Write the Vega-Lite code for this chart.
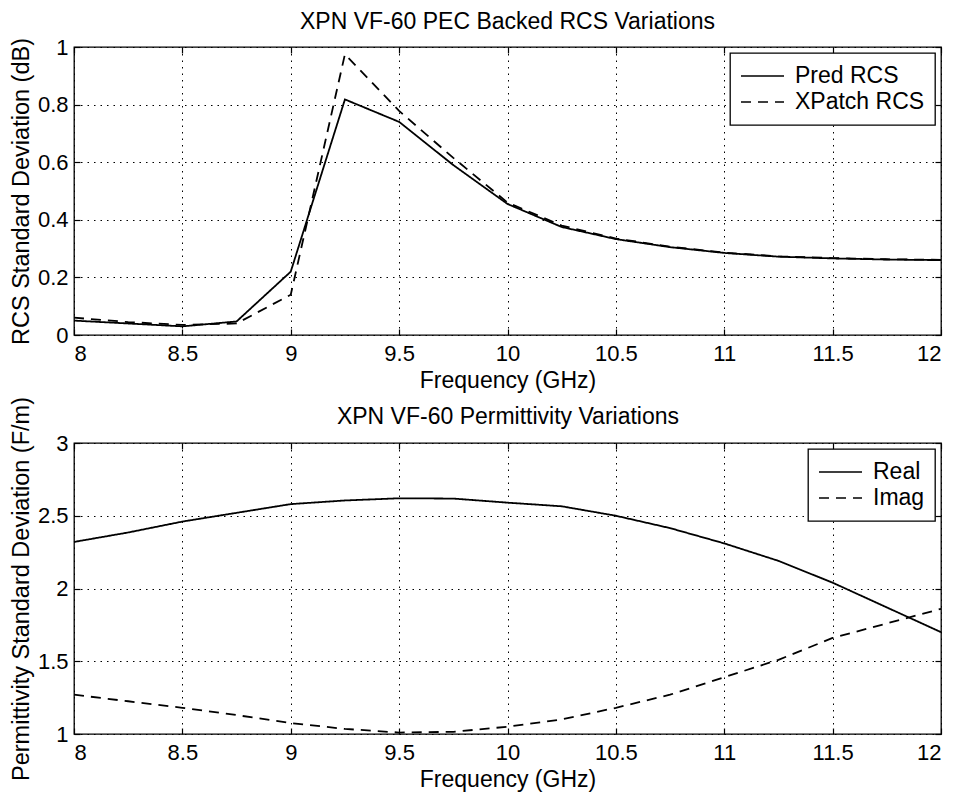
{
  "$schema": "https://vega.github.io/schema/vega-lite/v6.json",
  "background": "white",
  "padding": {"left": 8, "top": 10, "right": 5, "bottom": 3},
  "bounds": "flush",
  "datasets": {
    "rcs": [
      {"freq": 8, "value": 0.05, "series": "Pred RCS"},
      {"freq": 8.25, "value": 0.04, "series": "Pred RCS"},
      {"freq": 8.5, "value": 0.03, "series": "Pred RCS"},
      {"freq": 8.75, "value": 0.047, "series": "Pred RCS"},
      {"freq": 9, "value": 0.22, "series": "Pred RCS"},
      {"freq": 9.25, "value": 0.818, "series": "Pred RCS"},
      {"freq": 9.5, "value": 0.74, "series": "Pred RCS"},
      {"freq": 9.75, "value": 0.59, "series": "Pred RCS"},
      {"freq": 10, "value": 0.455, "series": "Pred RCS"},
      {"freq": 10.25, "value": 0.375, "series": "Pred RCS"},
      {"freq": 10.5, "value": 0.333, "series": "Pred RCS"},
      {"freq": 10.75, "value": 0.305, "series": "Pred RCS"},
      {"freq": 11, "value": 0.285, "series": "Pred RCS"},
      {"freq": 11.25, "value": 0.272, "series": "Pred RCS"},
      {"freq": 11.5, "value": 0.266, "series": "Pred RCS"},
      {"freq": 11.75, "value": 0.262, "series": "Pred RCS"},
      {"freq": 12, "value": 0.26, "series": "Pred RCS"},
      {"freq": 8, "value": 0.06, "series": "XPatch RCS"},
      {"freq": 8.25, "value": 0.045, "series": "XPatch RCS"},
      {"freq": 8.5, "value": 0.035, "series": "XPatch RCS"},
      {"freq": 8.75, "value": 0.04, "series": "XPatch RCS"},
      {"freq": 9, "value": 0.14, "series": "XPatch RCS"},
      {"freq": 9.25, "value": 0.975, "series": "XPatch RCS"},
      {"freq": 9.5, "value": 0.778, "series": "XPatch RCS"},
      {"freq": 9.75, "value": 0.615, "series": "XPatch RCS"},
      {"freq": 10, "value": 0.46, "series": "XPatch RCS"},
      {"freq": 10.25, "value": 0.38, "series": "XPatch RCS"},
      {"freq": 10.5, "value": 0.335, "series": "XPatch RCS"},
      {"freq": 10.75, "value": 0.307, "series": "XPatch RCS"},
      {"freq": 11, "value": 0.286, "series": "XPatch RCS"},
      {"freq": 11.25, "value": 0.273, "series": "XPatch RCS"},
      {"freq": 11.5, "value": 0.267, "series": "XPatch RCS"},
      {"freq": 11.75, "value": 0.263, "series": "XPatch RCS"},
      {"freq": 12, "value": 0.261, "series": "XPatch RCS"}
    ],
    "perm": [
      {"freq": 8, "value": 2.32, "series": "Real"},
      {"freq": 8.25, "value": 2.385, "series": "Real"},
      {"freq": 8.5, "value": 2.46, "series": "Real"},
      {"freq": 8.75, "value": 2.52, "series": "Real"},
      {"freq": 9, "value": 2.58, "series": "Real"},
      {"freq": 9.25, "value": 2.605, "series": "Real"},
      {"freq": 9.5, "value": 2.62, "series": "Real"},
      {"freq": 9.75, "value": 2.618, "series": "Real"},
      {"freq": 10, "value": 2.59, "series": "Real"},
      {"freq": 10.25, "value": 2.565, "series": "Real"},
      {"freq": 10.5, "value": 2.5, "series": "Real"},
      {"freq": 10.75, "value": 2.415, "series": "Real"},
      {"freq": 11, "value": 2.31, "series": "Real"},
      {"freq": 11.25, "value": 2.19, "series": "Real"},
      {"freq": 11.5, "value": 2.04, "series": "Real"},
      {"freq": 11.75, "value": 1.87, "series": "Real"},
      {"freq": 12, "value": 1.7, "series": "Real"},
      {"freq": 8, "value": 1.27, "series": "Imag"},
      {"freq": 8.25, "value": 1.225, "series": "Imag"},
      {"freq": 8.5, "value": 1.18, "series": "Imag"},
      {"freq": 8.75, "value": 1.13, "series": "Imag"},
      {"freq": 9, "value": 1.075, "series": "Imag"},
      {"freq": 9.25, "value": 1.035, "series": "Imag"},
      {"freq": 9.5, "value": 1.01, "series": "Imag"},
      {"freq": 9.75, "value": 1.015, "series": "Imag"},
      {"freq": 10, "value": 1.05, "series": "Imag"},
      {"freq": 10.25, "value": 1.1, "series": "Imag"},
      {"freq": 10.5, "value": 1.18, "series": "Imag"},
      {"freq": 10.75, "value": 1.27, "series": "Imag"},
      {"freq": 11, "value": 1.39, "series": "Imag"},
      {"freq": 11.25, "value": 1.51, "series": "Imag"},
      {"freq": 11.5, "value": 1.66, "series": "Imag"},
      {"freq": 11.75, "value": 1.76, "series": "Imag"},
      {"freq": 12, "value": 1.86, "series": "Imag"}
    ]
  },
  "config": {
    "font": "Liberation Sans",
    "view": {"stroke": "black", "strokeWidth": 1.3},
    "axis": {
      "domain": false,
      "grid": true,
      "gridColor": "black",
      "gridDash": [1.5, 5],
      "gridOpacity": 1,
      "gridWidth": 1,
      "tickColor": "black",
      "tickSize": -6,
      "tickWidth": 1.2,
      "labelColor": "black",
      "labelFontSize": 22,
      "labelFont": "Liberation Sans",
      "titleColor": "black",
      "titleFontSize": 23,
      "titleFontWeight": "normal",
      "titleFont": "Liberation Sans",
      "format": "~g"
    },
    "axisY": {"titleFontSize": 23.5},
    "legend": {
      "orient": "top-right",
      "offset": 6,
      "title": null,
      "strokeColor": "black",
      "strokeWidth": 1.3,
      "fillColor": "white",
      "padding": 10,
      "labelFontSize": 23,
      "labelColor": "black",
      "labelFont": "Liberation Sans",
      "symbolType": "stroke",
      "symbolSize": 1849,
      "symbolStrokeColor": "black",
      "symbolStrokeWidth": 1.6,
      "clipHeight": 26,
      "rowPadding": 0,
      "labelOffset": 10,
      "cornerRadius": 0
    },
    "title": {"fontSize": 23, "fontWeight": "normal", "color": "black", "font": "Liberation Sans", "offset": 2}
  },
  "spacing": 108,
  "resolve": {"scale": {"strokeDash": "independent"}, "legend": {"strokeDash": "independent"}},
  "vconcat": [
    {
      "width": 867,
      "height": 288,
      "title": "XPN VF-60 PEC Backed RCS Variations",
      "data": {"name": "rcs"},
      "layer": [
        {
          "mark": {"type": "line", "color": "black", "strokeWidth": 1.8},
          "encoding": {
            "x": {"field": "freq", "type": "quantitative", "scale": {"domain": [8, 12], "nice": false}, "axis": {"title": "Frequency (GHz)", "tickCount": 8, "labelPadding": 14, "titlePadding": 5}},
            "y": {"field": "value", "type": "quantitative", "scale": {"domain": [0, 1], "nice": false}, "axis": {"title": "RCS Standard Deviation (dB)", "tickCount": 5, "labelPadding": 12, "titlePadding": 4}},
            "strokeDash": {"field": "series", "type": "nominal", "scale": {"domain": ["Pred RCS", "XPatch RCS"], "range": [[1, 0], [10, 7]]}}
          }
        },
        {
          "mark": {"type": "line", "opacity": 0},
          "encoding": {
            "x": {"field": "freq", "type": "quantitative", "axis": {"orient": "top", "labels": false, "title": null, "grid": false, "tickCount": 8}},
            "y": {"field": "value", "type": "quantitative", "axis": {"orient": "right", "labels": false, "title": null, "grid": false, "tickCount": 5}},
            "detail": {"field": "series"}
          }
        }
      ],
      "resolve": {"axis": {"x": "independent", "y": "independent"}}
    },
    {
      "width": 867,
      "height": 291,
      "data": {"name": "perm"},
      "layer": [
        {
          "mark": {"type": "line", "color": "black", "strokeWidth": 1.8},
          "encoding": {
            "x": {"field": "freq", "type": "quantitative", "scale": {"domain": [8, 12], "nice": false}, "axis": {"title": "Frequency (GHz)", "tickCount": 8, "labelPadding": 14, "titlePadding": 5}},
            "y": {"field": "value", "type": "quantitative", "scale": {"domain": [1, 3], "nice": false}, "axis": {"title": "Permittivity Standard Deviation (F/m)", "tickCount": 4, "labelPadding": 12, "titlePadding": 4}},
            "strokeDash": {"field": "series", "type": "nominal", "scale": {"domain": ["Real", "Imag"], "range": [[1, 0], [10, 7]]}}
          }
        },
        {
          "mark": {"type": "line", "opacity": 0},
          "encoding": {
            "x": {"field": "freq", "type": "quantitative", "axis": {"orient": "top", "labels": false, "title": "XPN VF-60 Permittivity Variations", "titleFontSize": 23, "titlePadding": 14, "grid": false, "tickCount": 8}},
            "y": {"field": "value", "type": "quantitative", "axis": {"orient": "right", "labels": false, "title": null, "grid": false, "tickCount": 4}},
            "detail": {"field": "series"}
          }
        }
      ],
      "resolve": {"axis": {"x": "independent", "y": "independent"}}
    }
  ]
}
